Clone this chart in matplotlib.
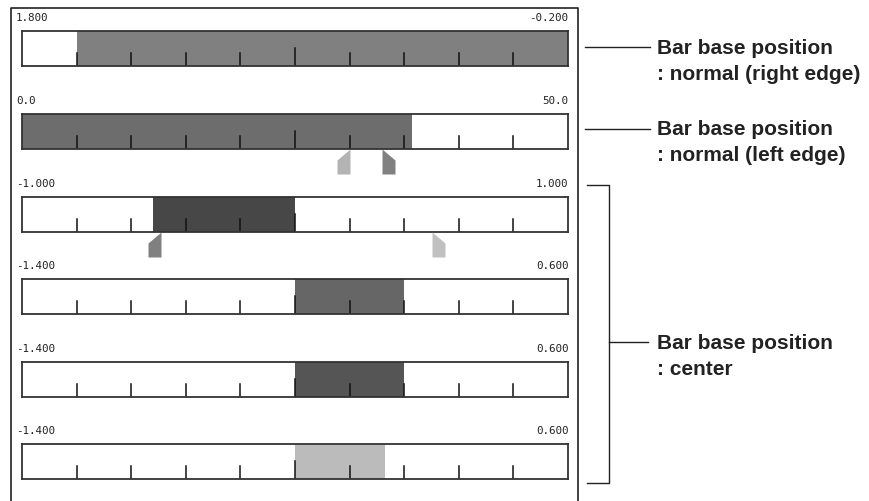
import matplotlib
matplotlib.use("Agg")
import matplotlib.pyplot as plt
from matplotlib.path import Path
import matplotlib.transforms as mtransforms
import numpy as np

# scale of each bar (left label, right label)
scale_lo = [1.8, 0.0, -1.0, -1.4, -1.4, -1.4]
scale_hi = [-0.2, 50.0, 1.0, 0.6, 0.6, 0.6]
lo_labels = ["1.800", "0.0", "-1.000", "-1.400", "-1.400", "-1.400"]
hi_labels = ["-0.200", "50.0", "1.000", "0.600", "0.600", "0.600"]
# bar base and bar value
bar_base = [-0.2, 0.0, 0.0, -0.4, -0.4, -0.4]
bar_value = [1.6, 35.7, -0.52, 0.0, 0.0, -0.07]
bar_color = ["#808080", "#6d6d6d", "#474747", "#666666", "#555555", "#bbbbbb"]
# markers: (bar index, value, kind, color)
marker_bar = [1, 1, 2, 2]
marker_val = [30.0, 33.0, -0.49, 0.5]
marker_kind = ["right", "left", "right", "left"]
marker_color = ["#b4b4b4", "#808080", "#808080", "#c0c0c0"]

W, H = 870, 502
fig = plt.figure(figsize=(W / 100, H / 100), dpi=100)

# outer frame in pixel coords
bg = fig.add_axes([0, 0, 1, 1])
bg.set_xlim(0, W)
bg.set_ylim(H, 0)
bg.axis("off")
bg.plot([11, 11, 578, 578], [H, 9, 9, H], color="#222222", lw=1.2)

bar_tops = [32, 115, 198, 280, 363, 445]
bar_h = 35
x0, bw = 22, 546

# marker shapes, vertex at the origin
v_right = [(0, 0), (0, -25), (-13, -25), (-13, -11), (0, 0)]
v_left = [(0, 0), (13, -11), (13, -25), (0, -25), (0, 0)]

for i in range(6):
    ax = fig.add_axes([x0 / W, 1 - (bar_tops[i] + bar_h) / H, bw / W, bar_h / H])
    ax.set_xlim(scale_lo[i], scale_hi[i])
    ax.set_ylim(0, 1)
    ax.set_xticks([])
    ax.set_yticks([])
    for s in ax.spines.values():
        s.set_color("#333333")
        s.set_linewidth(1.3)
    ax.barh(0.5, bar_value[i] - bar_base[i], left=bar_base[i], height=1.0,
            color=bar_color[i], zorder=1)
    ticks = np.linspace(scale_lo[i], scale_hi[i], 11)[1:-1]
    for k, t in enumerate(ticks):
        top = 18 / 35 if k == 4 else 13 / 35
        ax.plot([t, t], [0, top], color="#111111", lw=1.1, zorder=2)
    ax.text(-0.011, 1.4, lo_labels[i], transform=ax.transAxes, ha="left",
            va="center", family="DejaVu Sans Mono", fontsize=7.8, color="#222222")
    ax.text(1.001, 1.4, hi_labels[i], transform=ax.transAxes, ha="right",
            va="center", family="DejaVu Sans Mono", fontsize=7.8, color="#222222")

    for m in range(len(marker_bar)):
        if marker_bar[m] != i:
            continue
        verts = v_right if marker_kind[m] == "right" else v_left
        path = Path(verts)
        trans = mtransforms.blended_transform_factory(ax.transData, ax.transAxes)
        ax.plot([marker_val[m]], [0], marker=path, markersize=36,
                color=marker_color[m], markeredgewidth=0, transform=trans,
                clip_on=False, zorder=3)

# annotations on the right
lab_font = dict(family="Liberation Sans", fontweight="bold", fontsize=15,
                color="#222222", va="center", ha="left")
bg.plot([585, 650], [48, 48], color="#222222", lw=1.0)
bg.text(657, 49, "Bar base position", **lab_font)
bg.text(657, 75, ": normal (right edge)", **lab_font)
bg.plot([585, 650], [130, 130], color="#222222", lw=1.0)
bg.text(657, 130, "Bar base position", **lab_font)
bg.text(657, 156, ": normal (left edge)", **lab_font)
bg.plot([587, 609, 609, 587], [186, 186, 484, 484], color="#222222", lw=1.0)
bg.plot([609, 648], [343, 343], color="#222222", lw=1.0)
bg.text(657, 344, "Bar base position", **lab_font)
bg.text(657, 370, ": center", **lab_font)

fig.savefig("out.png", dpi=100)
